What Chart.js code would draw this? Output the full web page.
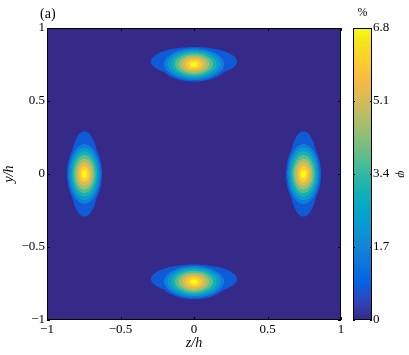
<!DOCTYPE html>
<html>
<head>
<meta charset="utf-8">
<script src="https://cdn.jsdelivr.net/npm/chart.js@4"></script>
<style>
  html, body { margin: 0; padding: 0; background: #fff; }
  #wrap { position: relative; width: 409px; height: 355px; }
  #main { position: absolute; left: 0; top: 0; }
  #cbar { position: absolute; left: 341px; top: 0; }
</style>
</head>
<body>
<div id="wrap">
  <canvas id="main" width="409" height="355"></canvas>
  <canvas id="cbar" width="68" height="355"></canvas>
</div>
<script>
// axis ticks
const zTicks = [-1, -0.5, 0, 0.5, 1];
const yTicks = [-1, -0.5, 0, 0.5, 1];
const cbTicks = [0, 1.7, 3.4, 5.1, 6.8];
const cMax = 6.8;
// contour levels (%)
const contourLevels = [0.68, 1.36, 2.04, 2.72, 3.4, 4.08, 4.76, 5.44, 6.12];

// the four concentration peaks
const blobZ = [0, -0.745, 0.745, 0];
const blobY = [0.75, 0, 0, -0.74];
const blobLong = ['z', 'y', 'y', 'z'];      // direction the blob is stretched along
const coreAmp = [5.85, 5.85, 5.85, 5.85];
const coreSlope = [26, 26, 26, 26];
const wingAmp = [1.0, 1.0, 1.0, 1.0];
const wingLong = [0.47, 0.47, 0.47, 0.47];
const wingShort = [0.16, 0.16, 0.16, 0.16];
const wingShift = [0.02, 0, 0, 0.02];       // wing offset in y

const serif = '"Liberation Serif", "DejaVu Serif", serif';

// parula colour map stops
const PARULA = [
  [0.2081, 0.1663, 0.5292], [0.1959, 0.2645, 0.7279], [0.0117, 0.3875, 0.8820],
  [0.0498, 0.4586, 0.8641], [0.0793, 0.5200, 0.8312], [0.0343, 0.5966, 0.8199],
  [0.0228, 0.6535, 0.7768], [0.0843, 0.6928, 0.7062], [0.2178, 0.7250, 0.6193],
  [0.3953, 0.7459, 0.5244], [0.5709, 0.7485, 0.4494], [0.7184, 0.7411, 0.3905],
  [0.8507, 0.7299, 0.3360], [0.9739, 0.7314, 0.2666], [0.9880, 0.8066, 0.1794],
  [0.9589, 0.8949, 0.1132], [0.9763, 0.9831, 0.0538]
];
const parulaPos = PARULA.map((_, i) => Math.min(1, (i * 4) / 63));

function parula(t) {
  t = Math.max(0, Math.min(1, t));
  let i = 0;
  while (i < PARULA.length - 2 && t > parulaPos[i + 1]) i++;
  const f = (t - parulaPos[i]) / (parulaPos[i + 1] - parulaPos[i]);
  const a = PARULA[i], b = PARULA[i + 1];
  return [0, 1, 2].map(c => Math.round(255 * (a[c] + (b[c] - a[c]) * f)));
}

const bandColours = [];
for (let k = 0; k <= contourLevels.length; k++) bandColours.push(parula(k / contourLevels.length));

function fieldAt(z, y) {
  let f = 0;
  for (let i = 0; i < blobZ.length; i++) {
    const dz = z - blobZ[i], dy = y - blobY[i];
    const u = blobLong[i] === 'z' ? dz : dy;
    const v = blobLong[i] === 'z' ? dy : dz;
    const core = coreAmp[i] - coreSlope[i] * Math.sqrt(u * u + 1.96 * v * v) - 100 * v * v;
    if (core > 0) f += core;
    const au = Math.abs(u) / wingLong[i], av = (v - wingShift[i]) / wingShort[i];
    f += wingAmp[i] * Math.exp(-(au * au) - av * av);
  }
  return f;
}

function bandOf(f) {
  let k = 0;
  while (k < contourLevels.length && f >= contourLevels[k]) k++;
  return k;
}

const fmt = v => (v < 0 ? '\u2212' : '') + Math.abs(v);
const noGrid = { display: false, drawTicks: false, tickLength: 0 };

const fieldPlugin = {
  id: 'field',
  beforeDatasetsDraw(chart) {
    const ctx = chart.ctx, a = chart.chartArea;
    const xs = chart.scales.x, ys = chart.scales.y;
    const L = Math.round(a.left), T = Math.round(a.top);
    const w = Math.round(a.right) - L, h = Math.round(a.bottom) - T;
    const img = ctx.createImageData(w, h);
    const offs = [0.25, 0.75];
    for (let j = 0; j < h; j++) {
      for (let i = 0; i < w; i++) {
        let r = 0, g = 0, b = 0;
        for (const oy of offs) for (const ox of offs) {
          const c = bandColours[bandOf(fieldAt(xs.getValueForPixel(L + i + ox), ys.getValueForPixel(T + j + oy)))];
          r += c[0]; g += c[1]; b += c[2];
        }
        const p = 4 * (j * w + i);
        img.data[p] = r / 4; img.data[p + 1] = g / 4; img.data[p + 2] = b / 4; img.data[p + 3] = 255;
      }
    }
    ctx.putImageData(img, L, T);
  },
  afterDraw(chart) {
    const ctx = chart.ctx, a = chart.chartArea;
    const xs = chart.scales.x, ys = chart.scales.y;
    ctx.save();
    ctx.strokeStyle = '#000';
    ctx.lineWidth = 1;
    ctx.beginPath();
    zTicks.forEach(v => {
      const px = Math.round(xs.getPixelForValue(v)) + 0.5;
      ctx.moveTo(px, a.bottom); ctx.lineTo(px, a.bottom - 3);
      ctx.moveTo(px, a.top); ctx.lineTo(px, a.top + 3);
    });
    yTicks.forEach(v => {
      const py = Math.round(ys.getPixelForValue(v)) + 0.5;
      ctx.moveTo(a.left, py); ctx.lineTo(a.left + 3, py);
      ctx.moveTo(a.right, py); ctx.lineTo(a.right - 3, py);
    });
    ctx.stroke();
    ctx.strokeRect(Math.round(a.left) + 0.5, Math.round(a.top) + 0.5,
      Math.round(a.right - a.left) - 1, Math.round(a.bottom - a.top) - 1);
    ctx.fillStyle = '#000';
    ctx.font = '14px ' + serif;
    ctx.textBaseline = 'alphabetic';
    ctx.fillText('(a)', 40, 18);
    ctx.restore();
  }
};

new Chart(document.getElementById('main'), {
  type: 'scatter',
  data: {
    datasets: [{ data: blobZ.map((z, i) => ({ x: z, y: blobY[i] })), pointRadius: 0 }]
  },
  options: {
    responsive: false,
    animation: false,
    layout: { padding: { left: 0, top: 28, right: 68, bottom: 0 } },
    plugins: { legend: { display: false }, tooltip: { enabled: false } },
    scales: {
      x: {
        type: 'linear', min: -1, max: 1,
        afterBuildTicks: s => { s.ticks = zTicks.map(v => ({ value: v })); },
        afterFit: s => { s.height = 35; },
        grid: noGrid, border: { display: false },
        ticks: { color: '#000', font: { family: serif, size: 13 }, padding: 2, maxRotation: 0, autoSkip: false, callback: fmt },
        title: { display: true, text: 'z/h', color: '#000', font: { family: serif, size: 14, style: 'italic' }, padding: { top: 0, bottom: 3 } }
      },
      y: {
        type: 'linear', min: -1, max: 1,
        afterBuildTicks: s => { s.ticks = yTicks.map(v => ({ value: v })); },
        afterFit: s => { s.width = 47; },
        grid: noGrid, border: { display: false },
        ticks: { color: '#000', font: { family: serif, size: 13 }, padding: 2, autoSkip: false, callback: fmt },
        title: { display: true, text: 'y/h', color: '#000', font: { family: serif, size: 14, style: 'italic' }, padding: { top: 1, bottom: 0 } }
      }
    }
  },
  plugins: [fieldPlugin]
});

const cbarPlugin = {
  id: 'cbar',
  beforeDatasetsDraw(chart) {
    const ctx = chart.ctx, a = chart.chartArea, ys = chart.scales.y;
    const T = Math.round(a.top), B = Math.round(a.bottom);
    for (let py = T; py < B; py++) {
      const c = parula(ys.getValueForPixel(py + 0.5) / cMax);
      ctx.fillStyle = 'rgb(' + c.join(',') + ')';
      ctx.fillRect(a.left, py, a.right - a.left, 1);
    }
  },
  afterDraw(chart) {
    const ctx = chart.ctx, a = chart.chartArea, ys = chart.scales.y;
    ctx.save();
    ctx.strokeStyle = '#000';
    ctx.lineWidth = 1;
    ctx.beginPath();
    cbTicks.forEach(v => {
      const py = Math.round(ys.getPixelForValue(v)) + 0.5;
      ctx.moveTo(a.left, py); ctx.lineTo(a.left + 2, py);
      ctx.moveTo(a.right, py); ctx.lineTo(a.right - 2, py);
    });
    ctx.stroke();
    ctx.strokeRect(Math.round(a.left) + 0.5, Math.round(a.top) + 0.5,
      Math.round(a.right - a.left) - 1, Math.round(a.bottom - a.top) - 1);
    ctx.fillStyle = '#000';
    ctx.font = '12px ' + serif;
    ctx.textAlign = 'center';
    ctx.textBaseline = 'middle';
    ctx.fillText('%', (a.left + a.right) / 2, 13);
    ctx.restore();
  }
};

new Chart(document.getElementById('cbar'), {
  type: 'scatter',
  data: { datasets: [{ data: [] }] },
  options: {
    responsive: false,
    animation: false,
    layout: { padding: { left: 12, top: 28, right: 0, bottom: 35 } },
    plugins: { legend: { display: false }, tooltip: { enabled: false } },
    scales: {
      x: { display: false, min: 0, max: 1 },
      y: {
        position: 'right', min: 0, max: cMax,
        afterBuildTicks: s => { s.ticks = cbTicks.map(v => ({ value: v })); },
        afterFit: s => { s.width = 37; },
        grid: noGrid, border: { display: false },
        ticks: { color: '#000', font: { family: serif, size: 13 }, padding: 1, autoSkip: false, callback: v => String(v) },
        title: { display: true, text: '\u03c6', color: '#000', font: { family: serif, size: 13, style: 'italic' }, padding: { top: 0, bottom: 0 } }
      }
    }
  },
  plugins: [cbarPlugin]
});
</script>
</body>
</html>
